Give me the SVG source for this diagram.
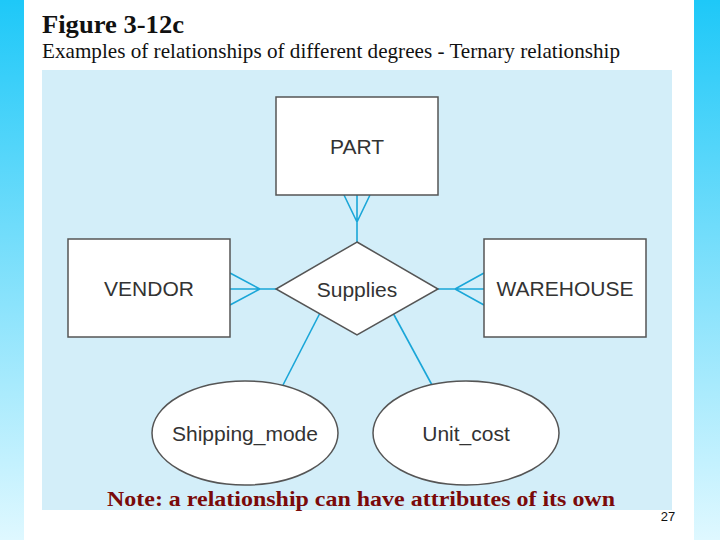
<svg xmlns="http://www.w3.org/2000/svg" width="720" height="540" viewBox="0 0 720 540">
<defs>
<linearGradient id="bg" x1="0" y1="0" x2="0" y2="1"><stop offset="0" stop-color="#1ec8f8"/><stop offset="1" stop-color="#dff8ff"/></linearGradient>
<style>
.box{fill:#fff;stroke:#555;stroke-width:1.5}
.lbl{font-family:"Liberation Sans",Arial,sans-serif;font-size:21px;fill:#333;text-anchor:middle;dominant-baseline:central}
.c{stroke:#1aa6d8;stroke-width:1.6;fill:none}
</style>
</defs>
<rect width="720" height="540" fill="url(#bg)"/>
<rect x="24" y="0" width="670" height="540" fill="#fff"/>
<text x="42" y="33" font-family="Liberation Serif,serif" font-weight="bold" font-size="25" fill="#111" textLength="142" lengthAdjust="spacingAndGlyphs">Figure 3-12c</text>
<text x="42" y="58" font-family="Liberation Serif,serif" font-size="21" fill="#111" textLength="578" lengthAdjust="spacingAndGlyphs">Examples of relationships of different degrees - Ternary relationship</text>
<rect x="42" y="70" width="630" height="440" fill="#d3eef9"/>
<g id="connectors">
<path class="c" d="M344 195L357 222L370 195M357 195V242"/>
<path class="c" d="M230 273L260 289L230 305M230 289H276"/>
<path class="c" d="M484 273L455 289L484 305M484 289H438"/>
<path class="c" d="M320 313L283 385"/>
<path class="c" d="M393 313L432 385"/>
</g>
<g id="part"><rect class="box" x="276" y="97" width="162" height="98"/><text class="lbl" x="357" y="146">PART</text></g>
<g id="vendor"><rect class="box" x="68" y="239" width="162" height="98"/><text class="lbl" x="149" y="288">VENDOR</text></g>
<g id="warehouse"><rect class="box" x="484" y="239" width="162" height="98"/><text class="lbl" x="565" y="288">WAREHOUSE</text></g>
<g id="supplies"><polygon class="box" points="357,242 438,289 357,335 276,289"/><text class="lbl" x="357" y="289">Supplies</text></g>
<g id="shipping"><ellipse class="box" cx="245" cy="433" rx="93" ry="52"/><text class="lbl" x="245" y="433">Shipping_mode</text></g>
<g id="unitcost"><ellipse class="box" cx="466" cy="433" rx="93" ry="52"/><text class="lbl" x="466" y="433">Unit_cost</text></g>
<text x="107" y="506" font-family="Liberation Serif,serif" font-weight="bold" font-size="21" fill="#7a0a0a" textLength="508" lengthAdjust="spacingAndGlyphs">Note: a relationship can have attributes of its own</text>
<text x="668" y="521" font-family="Liberation Sans,sans-serif" font-size="13" fill="#111" text-anchor="middle">27</text>
</svg>
